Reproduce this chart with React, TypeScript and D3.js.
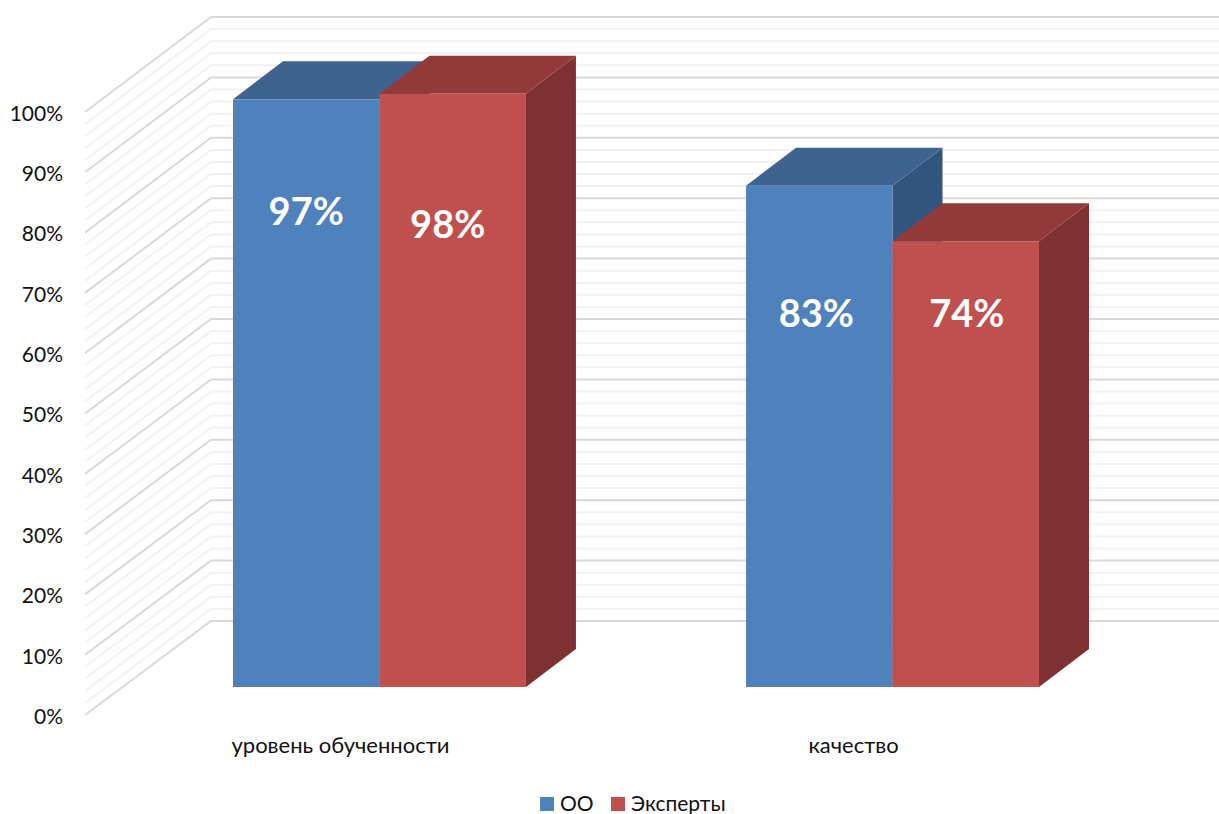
import * as d3 from "d3";

// ─── Data ─────────────────────────────────────────────────────────────────────

const CATEGORIES = ["уровень обученности", "качество"];
const SERIES = ["ОО", "Эксперты"];
const OO_VALUES = [97.3, 83];
const EXPERT_VALUES = [98.2, 73.8];
const VALUE_LABELS = [
  ["97%", "83%"],
  ["98%", "74%"],
];

// ─── Palette ──────────────────────────────────────────────────────────────────

const COLORS = [
  { front: "#4f81bd", top: "#3e638f", side: "#32557f" },
  { front: "#c0504d", top: "#923a3a", side: "#7d3131" },
];
const GRID_MAJOR = "#d9d9d9";
const GRID_MINOR = "#f2f2f2";
const TEXT = "#111111";
const FONT = "Lato, 'Noto Sans', sans-serif";

// ─── Layout ───────────────────────────────────────────────────────────────────

const W = 1219;
const H = 814;
const DEPTH_X = 50;
const DEPTH_Y = -38;
const WALL_LEFT = 85;
const WALL_BACK = 211;

// value labels sit by hand in the original: drop below bar top, nudge from bar centre
const LABEL_DROP = [
  [126, 141],
  [144, 86],
];
const LABEL_NUDGE = [
  [0, -3],
  [-5, 1],
];

// bars stand on this plane
const y = d3.scaleLinear().domain([0, 100]).range([687, 83]);
// axis side of the left wall, and the back wall
const yFront = d3.scaleLinear().domain([0, 100]).range([715, 112]);
const yBack = d3.scaleLinear().domain([0, 100]).range([621, 17]);

const x0 = d3
  .scaleBand<string>()
  .domain(CATEGORIES)
  .range([123, 1149])
  .paddingInner(0.429)
  .paddingOuter(0.2144);
const x1 = d3
  .scaleBand<string>()
  .domain(SERIES)
  .range([0, x0.bandwidth()]);

const pct = (v: number) => `${v}%`;

function Bar({ x, top, w, c }: { x: number; top: number; w: number; c: (typeof COLORS)[number] }) {
  const base = y(0);
  const r = x + w;
  return (
    <g>
      <path
        d={`M${r},${top}L${r + DEPTH_X},${top + DEPTH_Y}L${r + DEPTH_X},${base + DEPTH_Y}L${r},${base}Z`}
        fill={c.side}
      />
      <path
        d={`M${x},${top}L${x + DEPTH_X},${top + DEPTH_Y}L${r + DEPTH_X},${top + DEPTH_Y}L${r},${top}Z`}
        fill={c.top}
      />
      <rect x={x} y={top} width={w} height={base - top} fill={c.front} />
    </g>
  );
}

export default function App() {
  const allValues = [OO_VALUES, EXPERT_VALUES];
  const minor = y.ticks(50);

  return (
    <div style={{ position: "absolute", left: 0, top: 0 }}>
      <svg width={W} height={H} viewBox={`0 0 ${W} ${H}`} style={{ display: "block", background: "#fff" }}>
        {/* walls */}
        {minor.map((t) => {
          const major = t % 10 === 0;
          return (
            <polyline
              key={t}
              points={`${WALL_LEFT},${yFront(t)} ${WALL_BACK},${yBack(t)} ${W},${yBack(t)}`}
              fill="none"
              stroke={major ? GRID_MAJOR : GRID_MINOR}
              strokeWidth={2}
            />
          );
        })}

        {/* axis labels */}
        {y.ticks(10).map((t) => (
          <text
            key={t}
            x={63}
            y={yFront(t) + 1.5}
            dy="0.35em"
            textAnchor="end"
            fontFamily={FONT}
            fontSize={21}
            fill={TEXT}
          >
            {pct(t)}
          </text>
        ))}

        {/* bars */}
        {SERIES.map((s, si) =>
          CATEGORIES.map((cat, ci) => (
            <Bar
              key={s + cat}
              x={x0(cat)! + x1(s)!}
              top={y(allValues[si][ci])}
              w={x1.bandwidth()}
              c={COLORS[si]}
            />
          )),
        )}

        {/* value labels */}
        {SERIES.map((s, si) =>
          CATEGORIES.map((cat, ci) => (
            <text
              key={s + cat}
              x={x0(cat)! + x1(s)! + x1.bandwidth() / 2 + LABEL_NUDGE[si][ci]}
              y={y(allValues[si][ci]) + LABEL_DROP[si][ci]}
              textAnchor="middle"
              fontFamily={FONT}
              fontSize={38}
              fontWeight={700}
              fill="#ffffff"
            >
              {VALUE_LABELS[si][ci]}
            </text>
          )),
        )}

        {/* category labels */}
        {CATEGORIES.map((cat) => (
          <text
            key={cat}
            x={x0(cat)! + x0.bandwidth() / 2 - 39}
            y={753}
            textAnchor="middle"
            fontFamily={FONT}
            fontSize={22}
            fill={TEXT}
          >
            {cat}
          </text>
        ))}

        {/* legend */}
        {SERIES.map((s, i) => {
          const lx = [540, 611][i];
          return (
            <g key={s}>
              <rect x={lx} y={797} width={14} height={14} fill={COLORS[i].front} />
              <text x={lx + 20} y={811} fontFamily={FONT} fontSize={21} fill={TEXT}>
                {s}
              </text>
            </g>
          );
        })}
      </svg>
    </div>
  );
}
